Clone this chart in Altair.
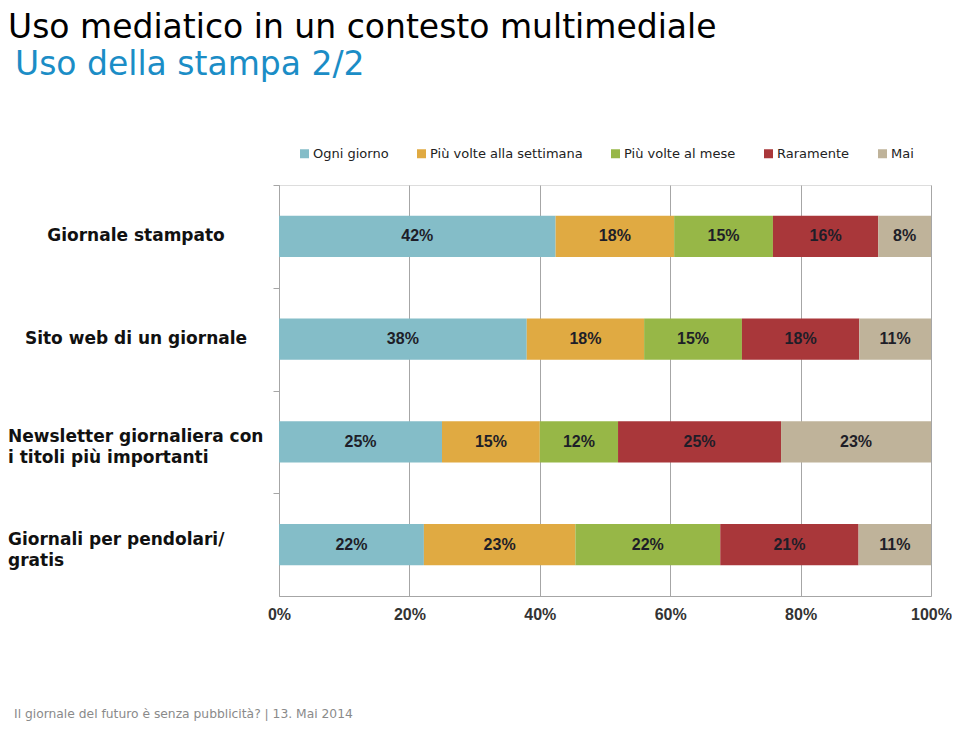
import altair as alt
import pandas as pd

# ---- data ----
media = [
    "Giornale stampato",
    "Sito web di un giornale",
    "Newsletter giornaliera con\ni titoli più importanti",
    "Giornali per pendolari/\ngratis",
]
categories = ["Ogni giorno", "Più volte alla settimana", "Più volte al mese", "Raramente", "Mai"]
ogni_giorno = [42, 38, 25, 22]
piu_settimana = [18, 18, 15, 23]
piu_mese = [15, 15, 12, 22]
raramente = [16, 18, 25, 21]
mai = [8, 11, 23, 11]
colors = ["#84BDC8", "#E0AA42", "#97B747", "#A9373A", "#BFB39A"]

title_main = "Uso mediatico in un contesto multimediale"
title_sub = "Uso della stampa 2/2"
footer = "Il giornale del futuro è senza pubblicità?  |  13. Mai 2014"

series = [ogni_giorno, piu_settimana, piu_mese, raramente, mai]
rows = []
for ci, (cat, vals) in enumerate(zip(categories, series)):
    for mi, m in enumerate(media):
        rows.append({"medium": m, "cat": cat, "order": ci, "value": vals[mi]})
df = pd.DataFrame(rows)

labels_df = pd.DataFrame({"medium": media, "multi": ["\n" in m for m in media]})

PLOT_W = 652
PLOT_H = 411
STEP = PLOT_H / 4.0

y_enc = alt.Y("medium:N", sort=media,
              scale=alt.Scale(paddingInner=0.6, paddingOuter=0.3),
              axis=alt.Axis(title=None, labels=False, domainColor="#a6a6a6",
                            tickColor="#a6a6a6", tickOffset=-STEP / 2, tickSize=6,
                            grid=False))

base = alt.Chart(df).transform_stack(
    stack="value", groupby=["medium"], as_=["x0", "x1"],
    offset="normalize", sort=[alt.SortField("order", order="ascending")]
)

bars = base.mark_bar().encode(
    y=y_enc,
    x=alt.X("x0:Q", scale=alt.Scale(domain=[0, 1], nice=False),
            axis=alt.Axis(title=None, values=[0, 0.2, 0.4, 0.6, 0.8, 1.0], format="%",
                          labelFont="Liberation Sans", labelFontWeight="bold",
                          labelFontSize=16, labelColor="#333333", labelPadding=10,
                          labelFlush=False, labelOverlap=False,
                          grid=True, gridColor="#a6a6a6", domainColor="#a6a6a6",
                          ticks=False)),
    x2="x1:Q",
    color=alt.Color("cat:N", sort=categories,
                    scale=alt.Scale(domain=categories, range=colors),
                    legend=alt.Legend(title=None, orient="none", legendX=19, legendY=-38,
                                      direction="horizontal", symbolType="square",
                                      symbolSize=81, symbolStrokeWidth=0,
                                      labelFont="DejaVu Sans", labelFontSize=13,
                                      labelColor="#222222", labelOffset=2,
                                      columnPadding=26)),
)

bar_text = base.transform_calculate(
    mid="(datum.x0 + datum.x1) / 2",
    lbl="datum.value + '%'",
).mark_text(font="Liberation Sans", fontWeight="bold", fontSize=16,
            color="#1e1e28", baseline="middle").encode(
    y=alt.Y("medium:N", sort=media),
    x=alt.X("mid:Q"),
    text="lbl:N",
)

single_labels = alt.Chart(labels_df).transform_filter("!datum.multi").mark_text(
    font="DejaVu Sans", fontWeight="bold", fontSize=17, color="#111111",
    align="center", baseline="middle"
).encode(y=alt.Y("medium:N", sort=media), x=alt.value(-143), text="medium:N")

multi_labels = alt.Chart(labels_df).transform_filter("datum.multi").mark_text(
    font="DejaVu Sans", fontWeight="bold", fontSize=17, color="#111111",
    align="left", baseline="middle", lineBreak="\n", lineHeight=21, dy=-5
).encode(y=alt.Y("medium:N", sort=media), x=alt.value(-271), text="medium:N")

t_main = alt.Chart(pd.DataFrame({"t": [title_main]})).mark_text(
    font="DejaVu Sans", fontSize=33, color="#000000", align="left",
    baseline="alphabetic"
).encode(x=alt.value(-271), y=alt.value(-147), text="t:N")

t_sub = alt.Chart(pd.DataFrame({"t": [title_sub]})).mark_text(
    font="DejaVu Sans", fontSize=33, color="#1B8DC6", align="left",
    baseline="alphabetic"
).encode(x=alt.value(-264), y=alt.value(-110), text="t:N")

t_foot = alt.Chart(pd.DataFrame({"t": [footer]})).mark_text(
    font="DejaVu Sans", fontSize=12.3, color="#8a8a8a", align="left",
    baseline="alphabetic"
).encode(x=alt.value(-265), y=alt.value(533), text="t:N")

chart = alt.layer(bars, bar_text, single_labels, multi_labels, t_main, t_sub, t_foot).properties(
    width=PLOT_W, height=PLOT_H,
    autosize=alt.AutoSizeParams(type="none"),
    padding={"left": 271, "top": 177, "right": 21, "bottom": 125},
).configure_view(strokeWidth=0).configure(background="white")

chart.save("out.html", embed_options={"renderer": "svg", "actions": False})
